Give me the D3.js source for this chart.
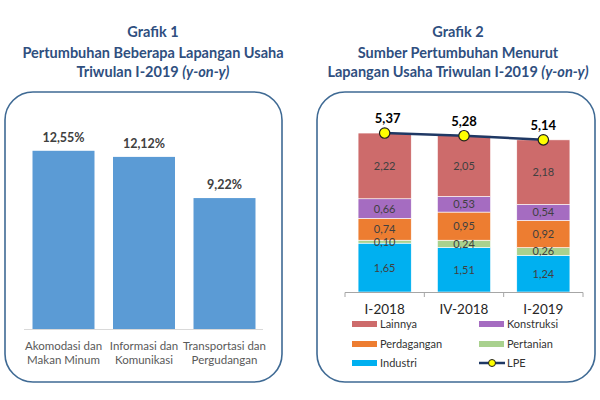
<!DOCTYPE html>
<html>
<head>
<meta charset="utf-8">
<script src="https://cdn.jsdelivr.net/npm/d3@7"></script>
<style>
  html, body { margin: 0; padding: 0; background: #fff; }
  svg { display: block; font-family: Lato, "Open Sans", sans-serif; }
</style>
</head>
<body>
<svg id="chart" width="600" height="400"></svg>
<script>
// ---- Data: Grafik 1 ----
const categories1 = ["Akomodasi dan|Makan Minum", "Informasi dan|Komunikasi", "Transportasi dan|Pergudangan"];
const values1 = [12.55, 12.12, 9.22];

// ---- Data: Grafik 2 ----
const periods = ["I-2018", "IV-2018", "I-2019"];
const seriesNames = ["Industri", "Pertanian", "Perdagangan", "Konstruksi", "Lainnya"];
const industri = [1.65, 1.51, 1.24];
const pertanian = [0.10, 0.24, 0.26];
const perdagangan = [0.74, 0.95, 0.92];
const konstruksi = [0.66, 0.53, 0.54];
const lainnya = [2.22, 2.05, 2.18];
const lpe = [5.37, 5.28, 5.14];
const seriesColors = ["#00b0f0", "#a9d18e", "#ed7d31", "#a56cc1", "#cd6b6b"];

const fmt = v => v.toFixed(2).replace(".", ",");

const svg = d3.select("#chart");
const titleColor = "#2f4f7f";
const borderColor = "#3f6a94";

// ---------- Titles ----------
function title(cx, lines) {
  const t = svg.append("text").attr("text-anchor", "middle")
    .attr("fill", titleColor).attr("font-weight", "bold").attr("font-size", 14.5);
  lines.forEach((ln, i) => {
    const ts = t.append("tspan").attr("x", cx).attr("y", [37, 58, 77][i]);
    if (Array.isArray(ln)) {
      ts.text(ln[0]);
      ts.append("tspan").attr("font-style", "italic").text(ln[1]);
    } else ts.text(ln);
  });
}
title(153, ["Grafik 1", "Pertumbuhan Beberapa Lapangan Usaha", ["Triwulan I-2019 ", "(y-on-y)"]]);
title(458, ["Grafik 2", "Sumber Pertumbuhan Menurut", ["Lapangan Usaha Triwulan I-2019 ", "(y-on-y)"]]);

// ---------- Panels ----------
svg.append("rect").attr("x", 5).attr("y", 92).attr("width", 277).attr("height", 290)
  .attr("rx", 28).attr("fill", "none").attr("stroke", borderColor).attr("stroke-width", 1.6);
svg.append("rect").attr("x", 317).attr("y", 92).attr("width", 278).attr("height", 290)
  .attr("rx", 28).attr("fill", "none").attr("stroke", borderColor).attr("stroke-width", 1.6);

// ---------- Grafik 1 ----------
const x1 = d3.scaleBand().domain(categories1).range([23.25, 264.75]).paddingInner(0.23).paddingOuter(0.115);
const y1 = d3.scaleLinear().domain([0, 14]).range([329, 329 - 14 * 14.2]);
const g1 = svg.append("g");
g1.selectAll("rect.bar").data(categories1).join("rect")
  .attr("x", d => x1(d)).attr("width", x1.bandwidth())
  .attr("y", (d, i) => y1(values1[i])).attr("height", (d, i) => y1(0) - y1(values1[i]))
  .attr("fill", "#5b9bd5");
g1.append("line").attr("x1", 24).attr("x2", 263).attr("y1", y1(0) + 0.5).attr("y2", y1(0) + 0.5)
  .attr("stroke", "#d9d9d9").attr("stroke-width", 1);
g1.selectAll("text.val").data(categories1).join("text")
  .attr("x", d => x1(d) + x1.bandwidth() / 2)
  .attr("y", (d, i) => y1(values1[i]) - 9)
  .attr("text-anchor", "middle").attr("font-weight", "bold").attr("font-size", 12.5)
  .attr("fill", "#404040").text((d, i) => fmt(values1[i]) + "%");
categories1.forEach(c => {
  const t = g1.append("text").attr("text-anchor", "middle").attr("font-size", 11.5).attr("fill", "#595959");
  c.split("|").forEach((ln, j) => {
    t.append("tspan").attr("x", x1(c) + x1.bandwidth() / 2).attr("y", 350 + j * 14).text(ln);
  });
});

// ---------- Grafik 2 ----------
const x2 = d3.scaleBand().domain(periods).range([345, 583]).paddingInner(0.33).paddingOuter(0.165);
const y2 = d3.scaleLinear().domain([0, 6]).range([292, 292 - 6 * 29.6]);
const g2 = svg.append("g");
const seriesArrays = [industri, pertanian, perdagangan, konstruksi, lainnya];
const table = periods.map((p, i) => {
  const o = { period: p };
  seriesNames.forEach((s, k) => o[s] = seriesArrays[k][i]);
  return o;
});
const stack = d3.stack().keys(seriesNames)(table);
stack.forEach((layer, k) => {
  g2.selectAll("rect.s" + k).data(layer).join("rect")
    .attr("x", d => x2(d.data.period)).attr("width", x2.bandwidth())
    .attr("y", d => y2(d[1])).attr("height", d => y2(d[0]) - y2(d[1]))
    .attr("fill", seriesColors[k]).attr("stroke", "#fff").attr("stroke-width", 0.6);
});
stack.forEach((layer, k) => {
  g2.selectAll("text.l" + k).data(layer).join("text")
    .attr("x", d => x2(d.data.period) + x2.bandwidth() / 2)
    .attr("y", d => (y2(d[0]) + y2(d[1])) / 2 + 4)
    .attr("text-anchor", "middle").attr("font-size", 11).attr("fill", "#404040")
    .text(d => fmt(d[1] - d[0]));
});
// axis
const ax = g2.append("g").attr("stroke", "#a6a6a6").attr("stroke-width", 1);
ax.append("line").attr("x1", 345).attr("x2", 583).attr("y1", 292.5).attr("y2", 292.5);
const bounds = periods.map(p => x2(p) - x2.step() * x2.paddingInner() / 2).concat([583]);
bounds.forEach(b => ax.append("line").attr("x1", b).attr("x2", b).attr("y1", 292.5).attr("y2", 297));
g2.selectAll("text.cat").data(periods).join("text")
  .attr("x", d => x2(d) + x2.bandwidth() / 2).attr("y", 314)
  .attr("text-anchor", "middle").attr("font-size", 13.5).attr("fill", "#262626").text(d => d);

// LPE line
const cx = d => x2(d) + x2.bandwidth() / 2;
const line = d3.line().x((d, i) => cx(periods[i])).y(d => y2(d));
g2.append("path").datum(lpe).attr("d", line).attr("fill", "none")
  .attr("stroke", "#1f3864").attr("stroke-width", 2.5);
g2.selectAll("circle.lpe").data(lpe).join("circle")
  .attr("cx", (d, i) => cx(periods[i])).attr("cy", d => y2(d)).attr("r", 5.2)
  .attr("fill", "#ffff00").attr("stroke", "#1f1f1f").attr("stroke-width", 1.2);
g2.selectAll("text.lpe").data(lpe).join("text")
  .attr("x", (d, i) => cx(periods[i]) + (i === 0 ? 3 : 0)).attr("y", d => y2(d) - 10)
  .attr("text-anchor", "middle").attr("font-weight", "bold").attr("font-size", 13)
  .attr("fill", "#000").text(d => fmt(d));

// legend
const legendItems = [
  { name: "Lainnya", color: seriesColors[4], col: 0, row: 0 },
  { name: "Konstruksi", color: seriesColors[3], col: 1, row: 0 },
  { name: "Perdagangan", color: seriesColors[2], col: 0, row: 1 },
  { name: "Pertanian", color: seriesColors[1], col: 1, row: 1 },
  { name: "Industri", color: seriesColors[0], col: 0, row: 2 },
  { name: "LPE", color: null, col: 1, row: 2 }
];
const lg = svg.append("g");
legendItems.forEach(it => {
  const lx = [352, 479][it.col];
  const ly = [324, 344, 363][it.row];
  if (it.color) {
    lg.append("rect").attr("x", lx).attr("y", ly - 3).attr("width", 25).attr("height", 6).attr("fill", it.color);
  } else {
    lg.append("line").attr("x1", lx).attr("x2", lx + 26).attr("y1", ly).attr("y2", ly)
      .attr("stroke", "#1f3864").attr("stroke-width", 2.5);
    lg.append("circle").attr("cx", lx + 13).attr("cy", ly).attr("r", 3.5)
      .attr("fill", "#ffff00").attr("stroke", "#1f1f1f").attr("stroke-width", 1);
  }
  lg.append("text").attr("x", lx + 28).attr("y", ly + 4).attr("font-size", 11)
    .attr("fill", "#333").text(it.name);
});
</script>
</body>
</html>
